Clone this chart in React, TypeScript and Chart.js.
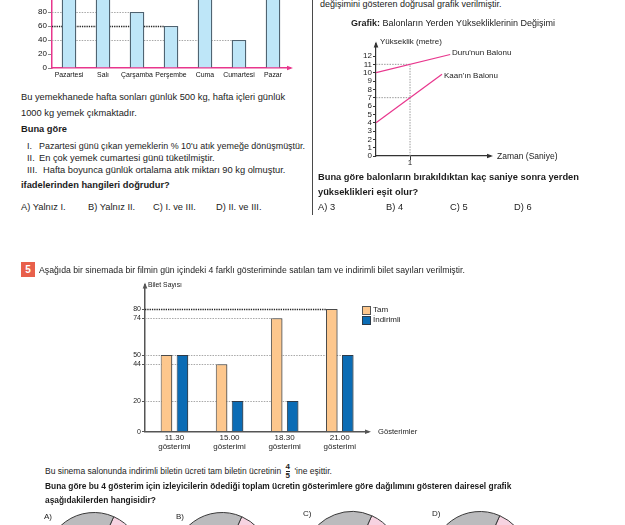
import React, { useEffect, useRef } from "react";
import { Chart, registerables } from "chart.js";
Chart.register(...registerables);

// ---------- data ----------
const DAYS = ["Pazartesi", "Salı", "Çarşamba", "Perşembe", "Cuma", "Cumartesi", "Pazar"];
const WASTE = [100, 120, 80, 60, 110, 40, 120];
const WASTE_TICKS = [0, 20, 40, 60, 80, 100, 120, 140];
const WASTE_GUIDES = [80, 60, 40];

const TIME_TICKS = [1];
const HEIGHT_TICKS = [0, 1, 2, 3, 4, 5, 6, 7, 8, 9, 10, 11, 12];
const DURU_T = [0, 2.18];
const DURU_H = [10, 12.18];
const KAAN_T = [0, 1.94];
const KAAN_H = [4, 9.82];
const GUIDE_T = 1;
const GUIDE_H = [11, 7];

const SHOWS = [["11.30", "gösterimi"], ["15.00", "gösterimi"], ["18.30", "gösterimi"], ["21.00", "gösterimi"]];
const SHOW_X = [0, 1, 2, 3];
const TAM = [50, 44, 74, 80];
const INDIRIMLI = [50, 20, 20, 50];
const TICKET_TICKS = [0, 20, 44, 50, 74, 80];
const TICKET_GUIDES = [80, 74, 50, 44, 20];

const PIE_A = [60, 90, 90, 120];
const PIE_B = [90, 60, 90, 120];
const PIE_C = [60, 120, 90, 90];
const PIE_D = [90, 90, 60, 120];

// ---------- styles ----------
const SANS = "'Liberation Sans', Arial, Helvetica, sans-serif";
const PINK = "#e8368d";
const INK = "#1c1c1c";

const arrows = (id: string, color: string, x: boolean, y: boolean) => ({
  id,
  afterDraw(chart: any) {
    const ctx = chart.ctx;
    const { left, right, top, bottom } = chart.chartArea;
    ctx.save();
    ctx.fillStyle = color;
    if (x) {
      ctx.beginPath();
      ctx.moveTo(right + 3, bottom);
      ctx.lineTo(right - 3, bottom - 2.3);
      ctx.lineTo(right - 3, bottom + 2.3);
      ctx.closePath();
      ctx.fill();
    }
    if (y) {
      ctx.beginPath();
      ctx.moveTo(left, top - 2);
      ctx.lineTo(left - 2.3, top + 4);
      ctx.lineTo(left + 2.3, top + 4);
      ctx.closePath();
      ctx.fill();
    }
    ctx.restore();
  },
});

const barGuides = (id: string, values: number[], dark: number, shadow: boolean) => ({
  id,
  beforeDatasetsDraw(chart: any) {
    const ctx = chart.ctx;
    const ys = chart.scales.y;
    const left = chart.chartArea.left;
    values.forEach((v) => {
      let xEnd = left;
      chart.data.datasets.forEach((ds: any, di: number) => {
        const meta = chart.getDatasetMeta(di);
        ds.data.forEach((d: any, i: number) => {
          const val = typeof d === "number" ? d : d.y;
          if (val === v) {
            const bar = meta.data[i];
            const bx = bar.x - bar.width / 2;
            if (bx > xEnd) xEnd = bx;
          }
        });
      });
      const py = Math.round(ys.getPixelForValue(v)) + 0.5;
      ctx.save();
      if (v === dark) {
        ctx.strokeStyle = "#222";
        ctx.lineWidth = 1.4;
        ctx.setLineDash([1.3, 1]);
      } else {
        ctx.strokeStyle = "#a8a8a8";
        ctx.lineWidth = 1;
        ctx.setLineDash([1.5, 1.2]);
      }
      ctx.beginPath();
      ctx.moveTo(left, py);
      ctx.lineTo(xEnd, py);
      ctx.stroke();
      ctx.restore();
    });
    if (shadow) {
      ctx.save();
      ctx.shadowColor = "rgba(0,0,0,0.28)";
      ctx.shadowOffsetX = 2;
      ctx.shadowOffsetY = 0;
      ctx.shadowBlur = 0;
    }
  },
  afterDatasetsDraw(chart: any) {
    if (shadow) chart.ctx.restore();
  },
});

const lineGuides = {
  id: "lineGuides",
  beforeDatasetsDraw(chart: any) {
    const ctx = chart.ctx;
    const xs = chart.scales.x;
    const ys = chart.scales.y;
    const px = xs.getPixelForValue(GUIDE_T);
    ctx.save();
    ctx.strokeStyle = "#9a9a9a";
    ctx.lineWidth = 1;
    ctx.setLineDash([1.5, 1.2]);
    GUIDE_H.forEach((h) => {
      const py = ys.getPixelForValue(h);
      ctx.beginPath();
      ctx.moveTo(xs.getPixelForValue(0), py);
      ctx.lineTo(px, py);
      ctx.stroke();
    });
    ctx.beginPath();
    ctx.moveTo(px, ys.getPixelForValue(0));
    ctx.lineTo(px, ys.getPixelForValue(Math.max(...GUIDE_H)));
    ctx.stroke();
    ctx.restore();
  },
};

const noPlug = { legend: { display: false }, tooltip: { enabled: false } };

function wasteConfig(): any {
  return {
    type: "bar",
    data: {
      labels: DAYS,
      datasets: [
        {
          data: WASTE,
          backgroundColor: "#bee6f8",
          borderColor: "#4e6371",
          borderWidth: 1.3,
          borderSkipped: "bottom",
          categoryPercentage: 1,
          barPercentage: 0.43,
        },
      ],
    },
    options: {
      animation: false,
      responsive: false,
      devicePixelRatio: 1,
      events: [],
      layout: { padding: { left: 0, right: 15, top: 10, bottom: 0 } },
      plugins: noPlug,
      scales: {
        x: {
          grid: { display: false, drawTicks: false },
          border: { color: PINK, width: 1.5 },
          ticks: { color: "#111", font: { size: 6.9, family: SANS }, padding: 2.5, maxRotation: 0, autoSkip: false },
          afterFit: (s: any) => { s.height = 22; },
        },
        y: {
          min: 0,
          max: 140,
          afterBuildTicks: (s: any) => { s.ticks = WASTE_TICKS.map((v) => ({ value: v })); },
          grid: { drawOnChartArea: false, color: "#888", tickLength: 4, lineWidth: 1 },
          border: { color: PINK, width: 1.5 },
          ticks: { color: "#111", font: { size: 8, family: SANS }, padding: 1, autoSkip: false },
          afterFit: (s: any) => { s.width = 52; },
        },
      },
    },
    plugins: [barGuides("wasteGuides", WASTE_GUIDES, 60, false), arrows("wasteArrows", PINK, true, false)],
  };
}

function balloonConfig(): any {
  return {
    type: "line",
    data: {
      datasets: [
        {
          label: "Duru'nun Balonu",
          data: DURU_T.map((t, i) => ({ x: t, y: DURU_H[i] })),
          borderColor: PINK,
          borderWidth: 1.2,
          pointRadius: 0,
        },
        {
          label: "Kaan'ın Balonu",
          data: KAAN_T.map((t, i) => ({ x: t, y: KAAN_H[i] })),
          borderColor: PINK,
          borderWidth: 1.2,
          pointRadius: 0,
        },
      ],
    },
    options: {
      animation: false,
      responsive: false,
      devicePixelRatio: 1,
      events: [],
      layout: { padding: { left: 0, right: 65, top: 13.5, bottom: 0 } },
      plugins: noPlug,
      scales: {
        x: {
          type: "linear",
          min: 0,
          max: 3.35,
          afterBuildTicks: (s: any) => { s.ticks = TIME_TICKS.map((v) => ({ value: v })); },
          grid: { drawOnChartArea: false, tickLength: 4, color: "#333" },
          border: { color: "#333", width: 1.2 },
          ticks: { color: INK, font: { size: 8, family: SANS }, padding: -2, autoSkip: false },
          afterFit: (s: any) => { s.height = 24; },
        },
        y: {
          type: "linear",
          min: 0,
          max: 13.5,
          afterBuildTicks: (s: any) => { s.ticks = HEIGHT_TICKS.map((v) => ({ value: v })); },
          grid: { drawOnChartArea: false, tickLength: 3, color: "#333" },
          border: { color: "#333", width: 1.2 },
          ticks: { color: INK, font: { size: 8, family: SANS }, padding: 1, autoSkip: false },
          afterFit: (s: any) => { s.width = 36; },
        },
      },
    },
    plugins: [lineGuides, arrows("balloonArrows", "#333", true, true)],
  };
}

function ticketConfig(): any {
  return {
    type: "bar",
    data: {
      datasets: [
        {
          label: "Tam",
          data: SHOW_X.map((x, i) => ({ x, y: TAM[i] })),
          backgroundColor: "#fdc78d",
          borderColor: "#4a4a4a",
          borderWidth: 1,
          borderSkipped: "bottom",
          categoryPercentage: 0.58,
          barPercentage: 0.72,
        },
        {
          label: "İndirimli",
          data: SHOW_X.map((x, i) => ({ x, y: INDIRIMLI[i] })),
          backgroundColor: "#0b6cb5",
          borderColor: "#2d3a48",
          borderWidth: 1,
          borderSkipped: "bottom",
          categoryPercentage: 0.58,
          barPercentage: 0.72,
        },
      ],
    },
    options: {
      animation: false,
      responsive: false,
      devicePixelRatio: 1,
      events: [],
      layout: { padding: { left: 0, right: 12, top: 9.5, bottom: 0 } },
      plugins: noPlug,
      scales: {
        x: {
          type: "linear",
          offset: false,
          min: -0.534,
          max: 3.513,
          afterBuildTicks: (s: any) => { s.ticks = SHOW_X.map((v) => ({ value: v })); },
          grid: { display: false, drawTicks: false, offset: false },
          border: { color: "#555", width: 1.5 },
          ticks: {
            color: INK,
            font: { size: 8, family: SANS, lineHeight: 1.2 },
            padding: 1,
            autoSkip: false,
            maxRotation: 0,
            callback: (v: any) => SHOWS[v] ?? "",
          },
          afterFit: (s: any) => { s.height = 28.3; },
        },
        y: {
          min: 0,
          max: 96,
          afterBuildTicks: (s: any) => { s.ticks = TICKET_TICKS.map((v) => ({ value: v })); },
          grid: { drawOnChartArea: false, tickLength: 3, color: "#555" },
          border: { color: "#555", width: 1.5 },
          ticks: { color: INK, font: { size: 7, family: SANS }, padding: 1, autoSkip: false },
          afterFit: (s: any) => { s.width = 40; },
        },
      },
    },
    plugins: [barGuides("ticketGuides", TICKET_GUIDES, 80, true), arrows("ticketArrows", "#555", true, true)],
  };
}

function pieConfig(values: number[]): any {
  return {
    type: "pie",
    data: {
      datasets: [
        {
          data: values,
          backgroundColor: ["#f7d3e1", "#cfe3f3", "#fbe4b8", "#bbbbbd"],
          borderColor: "#3a3a3a",
          borderWidth: 1,
        },
      ],
    },
    options: {
      animation: false,
      responsive: false,
      devicePixelRatio: 1,
      events: [],
      rotation: 24,
      layout: { padding: 1 },
      plugins: noPlug,
    },
  };
}

const T = ({ x, y, s = 9.3, b = false, c = INK, children }: any) => (
  <div
    style={{
      position: "absolute",
      left: x,
      top: y - s * 0.6,
      fontSize: s,
      lineHeight: `${s * 1.2}px`,
      fontWeight: b ? 700 : 400,
      fontFamily: SANS,
      color: c,
      whiteSpace: "nowrap",
    }}
  >
    {children}
  </div>
);

const cv = (ref: any, x: number, y: number, w: number, h: number) => (
  <canvas ref={ref} width={w} height={h} style={{ position: "absolute", left: x, top: y, width: w, height: h }} />
);

export default function App() {
  const r1 = useRef<HTMLCanvasElement>(null);
  const r2 = useRef<HTMLCanvasElement>(null);
  const r3 = useRef<HTMLCanvasElement>(null);
  const pa = useRef<HTMLCanvasElement>(null);
  const pb = useRef<HTMLCanvasElement>(null);
  const pc = useRef<HTMLCanvasElement>(null);
  const pd = useRef<HTMLCanvasElement>(null);

  useEffect(() => {
    const charts = [
      new Chart(r1.current as any, wasteConfig()),
      new Chart(r2.current as any, balloonConfig()),
      new Chart(r3.current as any, ticketConfig()),
      new Chart(pa.current as any, pieConfig(PIE_A)),
      new Chart(pb.current as any, pieConfig(PIE_B)),
      new Chart(pc.current as any, pieConfig(PIE_C)),
      new Chart(pd.current as any, pieConfig(PIE_D)),
    ];
    return () => charts.forEach((c) => c.destroy());
  }, []);

  return (
    <div style={{ position: "fixed", left: 0, top: 0, width: 625, height: 525, overflow: "hidden", background: "#fff" }}>
      {cv(r1, 0, -40, 305, 130)}
      {cv(r2, 340, 30, 215, 150)}
      {cv(r3, 105, 275, 275, 185)}
      {cv(pa, 44, 511, 100, 100)}
      {cv(pb, 172, 511, 100, 100)}
      {cv(pc, 302, 510, 100, 100)}
      {cv(pd, 430, 510, 100, 100)}

      {/* left column */}
      <T x={21} y={98}>Bu yemekhanede hafta sonları günlük 500 kg, hafta içleri günlük</T>
      <T x={21} y={114}>1000 kg yemek çıkmaktadır.</T>
      <T x={21} y={130} b>Buna göre</T>
      <T x={27} y={146} s={9}>I.</T>
      <T x={39} y={146} s={8.95}>Pazartesi günü çıkan yemeklerin % 10'u atık yemeğe dönüşmüştür.</T>
      <T x={27} y={158.5}>II.</T>
      <T x={39} y={158.5}>En çok yemek cumartesi günü tüketilmiştir.</T>
      <T x={27} y={171}>III.</T>
      <T x={43} y={171}>Hafta boyunca günlük ortalama atık miktarı 90 kg olmuştur.</T>
      <T x={21} y={186} b>ifadelerinden hangileri doğrudur?</T>
      <T x={21} y={208}>A)  Yalnız I.</T>
      <T x={88} y={208}>B)  Yalnız II.</T>
      <T x={153} y={208}>C)  I. ve III.</T>
      <T x={216} y={208}>D)  II. ve III.</T>

      {/* separator */}
      <div style={{ position: "absolute", left: 312, top: 0, width: 1, height: 215, background: "#4a4a4a" }} />

      {/* right column */}
      <T x={320} y={4} s={9}>değişimini gösteren doğrusal grafik verilmiştir.</T>
      <T x={351} y={23} s={9}>
        <b>Grafik:</b> Balonların Yerden Yüksekliklerinin Değişimi
      </T>
      <T x={380} y={42} s={8}>Yükseklik (metre)</T>
      <T x={452} y={53} s={8}>Duru'nun Balonu</T>
      <T x={444} y={76} s={8}>Kaan'ın Balonu</T>
      <T x={497} y={156} s={8.5}>Zaman (Saniye)</T>
      <T x={318} y={178} b>Buna göre balonların bırakıldıktan kaç saniye sonra yerden</T>
      <T x={318} y={193} b>yükseklikleri eşit olur?</T>
      <T x={318} y={208}>A)  3</T>
      <T x={386} y={208}>B)  4</T>
      <T x={450} y={208}>C)  5</T>
      <T x={514} y={208}>D)  6</T>

      {/* question 5 */}
      <div
        style={{
          position: "absolute",
          left: 21,
          top: 262,
          width: 14,
          height: 15,
          background: "#e8604b",
          color: "#fff",
          fontFamily: SANS,
          fontWeight: 700,
          fontSize: 10,
          lineHeight: "15px",
          textAlign: "center",
        }}
      >
        5
      </div>
      <T x={39} y={270} s={8.7}>
        Aşağıda bir sinemada bir filmin gün içindeki 4 farklı gösteriminde satılan tam ve indirimli bilet sayıları verilmiştir.
      </T>
      <T x={148} y={285} s={6.8}>Bilet Sayısı</T>
      <T x={378} y={432} s={7.6}>Gösterimler</T>

      {/* legend */}
      <div style={{ position: "absolute", left: 362, top: 306, width: 7, height: 7, background: "#fdc78d", border: "1px solid #555" }} />
      <T x={373} y={310} s={8}>Tam</T>
      <div style={{ position: "absolute", left: 362, top: 316, width: 7, height: 7, background: "#0b6cb5", border: "1px solid #2d3a48" }} />
      <T x={373} y={320} s={8}>İndirimli</T>

      <T x={45} y={468} s={8.5}>
        Bu sinema salonunda indirimli biletin ücreti tam biletin ücretinin{" "}
        <span
          style={{
            display: "inline-block",
            verticalAlign: "middle",
            textAlign: "center",
            fontWeight: 700,
            fontSize: 8,
            lineHeight: "8px",
            margin: "0 2px",
          }}
        >
          <span style={{ display: "block", borderBottom: "1px solid #222" }}>4</span>
          <span style={{ display: "block" }}>5</span>
        </span>{" "}
        'ine eşittir.
      </T>
      <T x={45} y={486} s={8.4} b>
        Buna göre bu 4 gösterim için izleyicilerin ödediği toplam ücretin gösterimlere göre dağılımını gösteren dairesel grafik
      </T>
      <T x={45} y={500} s={8.4} b>aşağıdakilerden hangisidir?</T>
      <T x={44} y={517} s={8}>A)</T>
      <T x={176} y={517} s={8}>B)</T>
      <T x={303} y={514} s={8}>C)</T>
      <T x={432} y={514} s={8}>D)</T>
    </div>
  );
}
